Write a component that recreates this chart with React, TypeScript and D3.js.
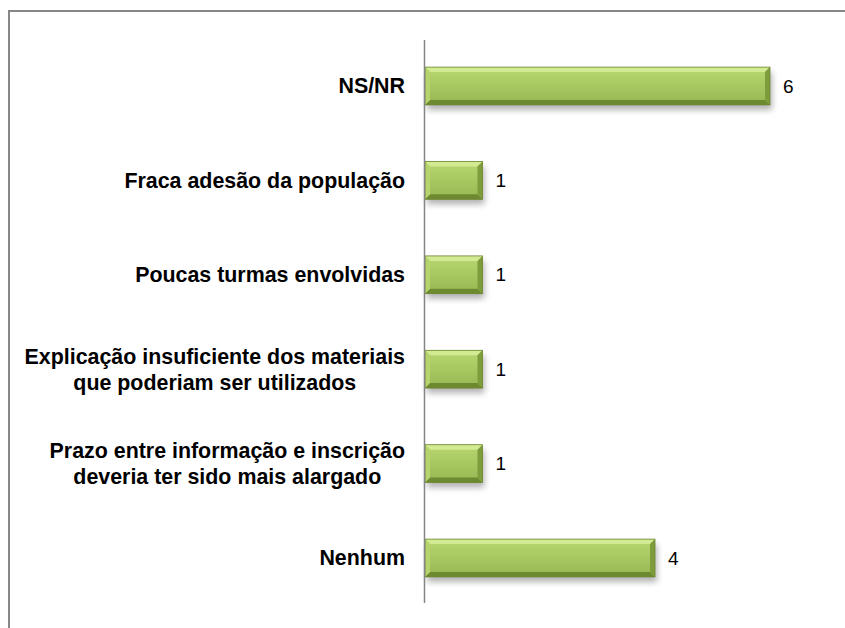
import React, { useEffect, useRef } from "react";
import * as d3 from "d3";

const categories: string[][] = [
  ["NS/NR"],
  ["Fraca adesão da população"],
  ["Poucas turmas envolvidas"],
  ["Explicação insuficiente dos materiais", "que poderiam ser utilizados"],
  ["Prazo entre informação e inscrição", "deveria ter sido mais alargado"],
  ["Nenhum"],
];
const values: number[] = [6, 1, 1, 1, 1, 4];
const keys: string[] = categories.map((c) => c.join(" "));

const W = 845;
const H = 628;

export default function App() {
  const ref = useRef<SVGSVGElement | null>(null);

  useEffect(() => {
    const svg = d3.select(ref.current);
    svg.selectAll("*").remove();

    const x = d3.scaleLinear().domain([0, 6]).range([425, 770]);
    const y = d3
      .scaleBand<string>()
      .domain(keys)
      .range([38.8, 605.2])
      .paddingInner(0.6)
      .paddingOuter(0.3);

    const defs = svg.append("defs");
    const f = defs.append("filter").attr("id", "sh").attr("x", "-10%").attr("y", "-50%").attr("width", "120%").attr("height", "200%");
    f.append("feGaussianBlur").attr("stdDeviation", 3);
    const g1 = defs.append("linearGradient").attr("id", "gmain").attr("x1", 0).attr("y1", 0).attr("x2", 0).attr("y2", 1);
    g1.append("stop").attr("offset", "0%").attr("stop-color", "#b8d770");
    g1.append("stop").attr("offset", "100%").attr("stop-color", "#96b752");

    // border
    svg.append("rect").attr("x", 9).attr("y", 11).attr("width", W + 20).attr("height", H + 20)
      .attr("fill", "#fff").attr("stroke", "#878787").attr("stroke-width", 2);

    const bars = svg.append("g");
    keys.forEach((k, i) => {
      const x0 = x(0);
      const w = x(values[i]) - x0;
      const y0 = y(k)!;
      const h = y.bandwidth();
      const b = 5;
      const g = bars.append("g");
      g.append("rect").attr("x", x0 + 2).attr("y", y0 + 5).attr("width", w).attr("height", h)
        .attr("fill", "#000").attr("opacity", 0.3).attr("filter", "url(#sh)");
      g.append("rect").attr("x", x0).attr("y", y0).attr("width", w).attr("height", h).attr("fill", "url(#gmain)");
      const poly = (pts: number[][], fill: string) =>
        g.append("polygon").attr("points", pts.map((p) => p.join(",")).join(" ")).attr("fill", fill);
      poly([[x0, y0], [x0 + w, y0], [x0 + w - b, y0 + b], [x0 + b, y0 + b]], "#d2ea92");
      poly([[x0, y0 + h], [x0 + w, y0 + h], [x0 + w - b, y0 + h - b], [x0 + b, y0 + h - b]], "#6e8a30");
      poly([[x0, y0], [x0 + b, y0 + b], [x0 + b, y0 + h - b], [x0, y0 + h]], "#b6d46d");
      poly([[x0 + w, y0], [x0 + w - b, y0 + b], [x0 + w - b, y0 + h - b], [x0 + w, y0 + h]], "#7f9c3c");
      g.append("rect").attr("x", x0).attr("y", y0).attr("width", w).attr("height", h)
        .attr("fill", "none").attr("stroke", "#6b8530").attr("stroke-width", 0.8);

      // value label
      svg.append("text").attr("x", x(values[i]) + 13).attr("y", y0 + h / 2).attr("dy", "0.35em")
        .attr("font-family", "Liberation Sans, Arial, sans-serif").attr("font-size", 19).attr("fill", "#000")
        .text(values[i]);

      // category label
      const lines = categories[i];
      const cy = y0 + h / 2;
      const lh = 26;
      const tg = svg.append("g");
      const texts = lines.map((ln, j) =>
        tg.append("text")
          .attr("x", 405)
          .attr("y", cy + (j - (lines.length - 1) / 2) * lh)
          .attr("dy", "0.35em")
          .attr("text-anchor", "end")
          .attr("font-family", "Liberation Sans, Arial, sans-serif")
          .attr("font-weight", "bold")
          .attr("font-size", 21.4)
          .attr("fill", "#000")
          .text(ln)
      );
      if (lines.length > 1) {
        const widths = texts.map((t) => (t.node() as SVGTextElement).getComputedTextLength());
        const mw = Math.max(...widths);
        texts.forEach((t) => t.attr("text-anchor", "middle").attr("x", 405 - mw / 2));
      }
    });

    // axis line
    svg.append("line").attr("x1", 424.5).attr("x2", 424.5).attr("y1", 40).attr("y2", 603)
      .attr("stroke", "#868686").attr("stroke-width", 1.5);
  }, []);

  return (
    <div style={{ position: "absolute", left: 0, top: 0 }}>
      <svg ref={ref} width={W} height={H} style={{ display: "block" }} />
    </div>
  );
}
